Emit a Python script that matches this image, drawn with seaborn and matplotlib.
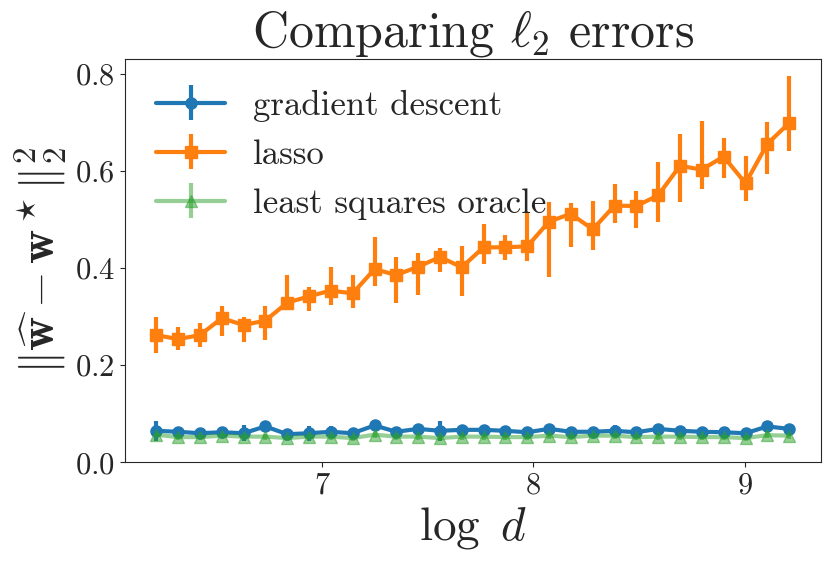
import numpy as np
import matplotlib
matplotlib.use("Agg")
import matplotlib.pyplot as plt
import seaborn as sns

# log d positions (d from 500 to 10000, 30 sizes)
log_d = [6.215, 6.318, 6.421, 6.525, 6.628, 6.731, 6.835, 6.938, 7.041, 7.144,
         7.248, 7.351, 7.454, 7.558, 7.661, 7.764, 7.867, 7.971, 8.074, 8.177,
         8.281, 8.384, 8.487, 8.590, 8.694, 8.797, 8.900, 9.004, 9.107, 9.210]

# gradient descent
gd_mean = [0.065, 0.063, 0.060, 0.062, 0.060, 0.074, 0.058, 0.060, 0.063, 0.060,
           0.076, 0.063, 0.069, 0.065, 0.067, 0.067, 0.065, 0.062, 0.069, 0.063,
           0.063, 0.065, 0.062, 0.069, 0.065, 0.063, 0.062, 0.060, 0.074, 0.069]
gd_err = [0.020, 0.008, 0.008, 0.008, 0.016, 0.010, 0.006, 0.015, 0.012, 0.008,
          0.008, 0.010, 0.008, 0.020, 0.010, 0.010, 0.008, 0.008, 0.008, 0.010,
          0.008, 0.012, 0.008, 0.008, 0.008, 0.008, 0.008, 0.008, 0.008, 0.006]

# lasso (mean, lower end, upper end of the bar)
lasso_mean = [0.262, 0.254, 0.262, 0.297, 0.283, 0.292, 0.329, 0.342, 0.354, 0.348,
              0.398, 0.386, 0.403, 0.423, 0.402, 0.443, 0.443, 0.445, 0.496, 0.512,
              0.480, 0.529, 0.528, 0.550, 0.611, 0.603, 0.630, 0.575, 0.656, 0.699]
lasso_low = [0.225, 0.232, 0.238, 0.260, 0.247, 0.252, 0.314, 0.311, 0.324, 0.318,
             0.363, 0.328, 0.345, 0.393, 0.343, 0.408, 0.416, 0.414, 0.381, 0.443,
             0.438, 0.493, 0.482, 0.495, 0.536, 0.564, 0.586, 0.539, 0.594, 0.642]
lasso_high = [0.299, 0.278, 0.287, 0.322, 0.300, 0.323, 0.385, 0.362, 0.402, 0.386,
              0.465, 0.423, 0.431, 0.442, 0.446, 0.491, 0.469, 0.516, 0.537, 0.535,
              0.539, 0.574, 0.559, 0.619, 0.677, 0.704, 0.669, 0.632, 0.701, 0.795]

# least squares oracle
ls_mean = [0.057, 0.052, 0.052, 0.055, 0.053, 0.053, 0.050, 0.053, 0.053, 0.050,
           0.057, 0.053, 0.053, 0.050, 0.053, 0.053, 0.052, 0.052, 0.055, 0.052,
           0.055, 0.055, 0.052, 0.053, 0.053, 0.052, 0.052, 0.050, 0.056, 0.055]
ls_err = [0.006] * 30

sns.set_style("ticks")
plt.rcParams['font.family'] = ['cmr10']
plt.rcParams['mathtext.fontset'] = 'cm'
plt.rcParams['axes.formatter.use_mathtext'] = True
plt.rcParams['axes.unicode_minus'] = False

colors = sns.color_palette("tab10")

fig, ax = plt.subplots(figsize=(8.31, 5.68), dpi=100)
fig.subplots_adjust(left=0.150, right=0.9876, top=0.897, bottom=0.186)

lasso_err = [np.array(lasso_mean) - np.array(lasso_low),
             np.array(lasso_high) - np.array(lasso_mean)]

ax.errorbar(log_d, gd_mean, yerr=gd_err, color=colors[0], marker='o', markersize=8,
            linewidth=3, elinewidth=3, label='gradient descent')
ax.errorbar(log_d, lasso_mean, yerr=lasso_err, color=colors[1], marker='s', markersize=9,
            linewidth=3, elinewidth=3, label='lasso')
ax.errorbar(log_d, ls_mean, yerr=ls_err, color=colors[2], marker='^', markersize=8,
            linewidth=3, elinewidth=3, alpha=0.5, label='least squares oracle')

ax.set_ylim(0, 0.832)
ax.set_yticks([0.0, 0.2, 0.4, 0.6, 0.8])
ax.set_xticks([7, 8, 9])
ax.tick_params(labelsize=22)

ax.set_title(r'Comparing $\ell_2$ errors', fontsize=36)
ax.set_xlabel(r'$\log\ d$', fontsize=34)
ax.set_ylabel(r'$\|\widehat{\mathbf{w}} - \mathbf{w}^\star\|_2^2$', fontsize=34)

ax.legend(loc='upper left', frameon=False, fontsize=25)

plt.savefig("out.png", dpi=100)
